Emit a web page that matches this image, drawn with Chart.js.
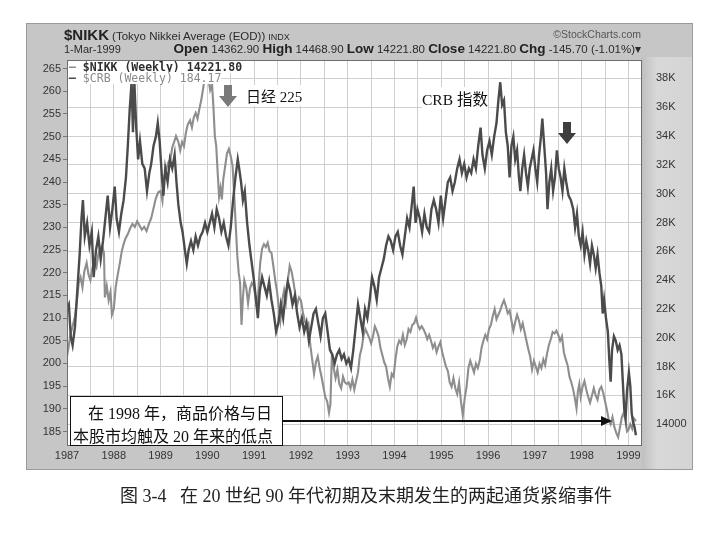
<!DOCTYPE html>
<html>
<head>
<meta charset="utf-8">
<script src="https://cdn.jsdelivr.net/npm/chart.js@4.4.1/dist/chart.umd.min.js"></script>
<style>
  html, body { margin: 0; padding: 0; background: #ffffff; }
  body { width: 725px; height: 537px; position: relative; overflow: hidden; font-family: "Liberation Sans", Arial, sans-serif; }
  #frame { position: absolute; left: 26px; top: 23px; width: 667px; height: 447px; background: #c6c6c6; border: 1px solid #9a9a9a; box-sizing: border-box; z-index: 0; }
  #frameRight { position: absolute; left: 642px; top: 57px; width: 50px; height: 412px; background: linear-gradient(to right, #c0c0c0, #d8d8d8 30%, #d4d4d4); z-index: 0; }
  #c { position: absolute; left: 0; top: 0; z-index: 1; }
  .ov { position: absolute; z-index: 2; white-space: nowrap; }
  .hdr { color: #2a2a2a; font-size: 11px; }
  .b { font-weight: bold; font-size: 13.5px; color: #222; }
  .serif { font-family: "Liberation Serif", "Noto Sans CJK SC", serif; color: #111; }
  .leg { font-family: "DejaVu Sans Mono", monospace; font-size: 11.5px; font-weight: bold; line-height: 12px; background: #fff; }
  .arrowDown { position: absolute; z-index: 2; width: 18px; height: 22px; }
  .arrowDown .shaft { position: absolute; left: 5px; top: 0; width: 8px; height: 11px; }
  .arrowDown .head { position: absolute; left: 0; top: 11px; width: 0; height: 0; border-left: 9px solid transparent; border-right: 9px solid transparent; }
</style>
</head>
<body>
<div id="frame"></div>
<div id="frameRight"></div>
<canvas id="c" width="725" height="537"></canvas>

<!-- header -->
<div class="ov hdr" style="left:64px; top:26px;"><span style="font-weight:bold; font-size:15px; color:#222;">$NIKK</span> <span style="font-size:11.5px;">(Tokyo Nikkei Average (EOD))</span> <span style="font-size:9px;">INDX</span></div>
<div class="ov hdr" style="left:64px; top:43px; font-size:11px;">1-Mar-1999</div>
<div class="ov hdr" style="right:84px; top:41px; font-size:11.5px;"><span class="b">Open</span> 14362.90 <span class="b">High</span> 14468.90 <span class="b">Low</span> 14221.80 <span class="b">Close</span> 14221.80 <span class="b">Chg</span> -145.70 (-1.01%)&#9662;</div>
<div class="ov hdr" style="right:84px; top:28px; font-size:10.5px; color:#555;">&copy;StockCharts.com</div>

<!-- legend -->
<div class="ov leg" style="left:69px; top:61px; color:#2e2e2e;"><span style="color:#8f8f8f;">&#8212;</span> $NIKK (Weekly) 14221.80</div>
<div class="ov leg" style="left:69px; top:72px; color:#8a8a8a; font-weight:normal;"><span style="color:#4a4a4a; font-weight:bold;">&#8212;</span> $CRB (Weekly) 184.17</div>

<!-- annotations -->
<div class="arrowDown" style="left:219px; top:85px;"><div class="shaft" style="background:#7a7a7a;"></div><div class="head" style="border-top:11px solid #7a7a7a;"></div></div>
<div class="ov serif" style="left:246px; top:85px; font-size:15px; background:#fff;">日经 225</div>
<div class="ov serif" style="left:422px; top:87px; font-size:15.5px; background:#fff;">CRB 指数</div>
<div class="arrowDown" style="left:558px; top:122px;"><div class="shaft" style="background:#3e3e3e;"></div><div class="head" style="border-top:11px solid #3e3e3e;"></div></div>

<div class="ov" style="left:70px; top:396px; width:213px; height:50px; background:#fff; border:1.5px solid #111; box-sizing:border-box;"></div>
<div class="ov serif" style="left:88px; top:400px; font-size:16px;">在 1998 年，商品价格与日</div>
<div class="ov serif" style="left:73px; top:423px; font-size:16px;">本股市均触及 20 年来的低点</div>
<div class="ov" style="left:283px; top:420px; width:320px; height:1.5px; background:#111;"></div>
<div class="ov" style="left:601px; top:416px; width:0; height:0; border-top:5px solid transparent; border-bottom:5px solid transparent; border-left:11px solid #111;"></div>

<!-- caption -->
<div class="ov serif" style="left:120px; top:481px; font-size:18px; color:#222;">图 3-4&nbsp;&nbsp;&nbsp;在 20 世纪 90 年代初期及末期发生的两起通货紧缩事件</div>

<script>
// ---------- data (decimal years) ----------
const crbDates = [1987.00,1987.04,1987.08,1987.12,1987.17,1987.22,1987.27,1987.31,1987.34,1987.38,1987.43,1987.48,1987.53,1987.57,1987.62,1987.67,1987.72,1987.77,1987.82,1987.87,1987.92,1987.97,1988.02,1988.06,1988.11,1988.16,1988.21,1988.26,1988.30,1988.34,1988.38,1988.41,1988.44,1988.48,1988.52,1988.56,1988.61,1988.66,1988.71,1988.76,1988.80,1988.85,1988.90,1988.94,1988.98,1989.03,1989.06,1989.10,1989.15,1989.20,1989.25,1989.30,1989.34,1989.38,1989.43,1989.47,1989.52,1989.56,1989.60,1989.65,1989.70,1989.75,1989.80,1989.85,1989.90,1989.95,1990.00,1990.05,1990.10,1990.15,1990.20,1990.25,1990.30,1990.35,1990.40,1990.45,1990.50,1990.55,1990.60,1990.65,1990.68,1990.72,1990.76,1990.80,1990.85,1990.90,1990.95,1991.00,1991.04,1991.08,1991.12,1991.17,1991.22,1991.27,1991.32,1991.37,1991.42,1991.47,1991.52,1991.57,1991.62,1991.67,1991.72,1991.77,1991.82,1991.87,1991.92,1991.97,1992.02,1992.07,1992.12,1992.17,1992.22,1992.27,1992.32,1992.37,1992.42,1992.47,1992.52,1992.57,1992.62,1992.67,1992.72,1992.77,1992.82,1992.87,1992.92,1992.97,1993.02,1993.07,1993.12,1993.17,1993.22,1993.27,1993.32,1993.37,1993.42,1993.47,1993.52,1993.57,1993.62,1993.67,1993.72,1993.77,1993.82,1993.87,1993.92,1993.97,1994.02,1994.07,1994.12,1994.17,1994.22,1994.27,1994.32,1994.37,1994.41,1994.45,1994.49,1994.54,1994.59,1994.64,1994.69,1994.74,1994.79,1994.84,1994.89,1994.94,1994.99,1995.04,1995.09,1995.14,1995.19,1995.24,1995.29,1995.34,1995.39,1995.44,1995.49,1995.54,1995.59,1995.64,1995.69,1995.74,1995.79,1995.84,1995.88,1995.93,1995.98,1996.03,1996.08,1996.13,1996.18,1996.22,1996.26,1996.30,1996.34,1996.38,1996.42,1996.46,1996.50,1996.54,1996.58,1996.62,1996.66,1996.69,1996.73,1996.77,1996.81,1996.85,1996.89,1996.93,1996.97,1997.01,1997.05,1997.09,1997.13,1997.16,1997.20,1997.24,1997.27,1997.31,1997.35,1997.39,1997.43,1997.47,1997.51,1997.55,1997.59,1997.63,1997.67,1997.72,1997.77,1997.82,1997.86,1997.90,1997.94,1997.98,1998.02,1998.06,1998.10,1998.14,1998.18,1998.22,1998.26,1998.30,1998.34,1998.38,1998.42,1998.45,1998.48,1998.52,1998.56,1998.59,1998.62,1998.65,1998.69,1998.73,1998.77,1998.81,1998.85,1998.88,1998.91,1998.94,1998.97,1999.01,1999.04,1999.07,1999.10,1999.13,1999.16];
const crbValues = [212,213,206,204,208,216,224,232,236,228,231,226,229,219,225,228,223,227,232,237,230,234,239,232,229,233,236,241,248,256,262,251,262,252,245,249,244,243,238,242,244,248,250,253,249,241,237,243,240,245,243,246,240,235,231,229,225,222,225,227,225,228,226,228,229,231,229,231,233,230,234,232,229,231,228,226,230,236,241,245,243,240,236,238,231,226,222,218,214,210,216,219,217,215,218,214,211,207,209,213,210,215,218,216,213,215,211,208,210,207,209,205,208,211,212,209,206,210,211,207,203,202,200,202,203,201,202,200,201,199,203,208,213,210,207,212,210,214,219,217,214,219,221,223,226,228,227,225,228,229,226,224,228,232,230,235,239,231,234,232,229,233,230,229,234,236,234,231,237,232,236,240,241,238,240,243,245,242,244,241,243,242,245,243,248,252,246,243,247,249,246,250,253,258,262,257,258,251,248,241,248,250,245,247,241,238,243,246,242,239,243,245,247,243,240,246,250,254,248,242,234,240,243,238,241,247,243,241,238,243,240,237,236,234,230,233,228,226,229,224,227,225,222,226,224,221,224,220,217,211,214,210,207,201,196,203,206,205,203,204,202,196,190,188,194,198,195,189,187,186,184.17];

const nikkDates = [1987.00,1987.04,1987.08,1987.12,1987.17,1987.21,1987.25,1987.29,1987.33,1987.37,1987.42,1987.46,1987.50,1987.54,1987.58,1987.63,1987.67,1987.71,1987.75,1987.79,1987.81,1987.85,1987.89,1987.93,1987.96,1988.00,1988.04,1988.08,1988.13,1988.17,1988.21,1988.25,1988.30,1988.35,1988.40,1988.45,1988.50,1988.55,1988.60,1988.65,1988.70,1988.75,1988.80,1988.85,1988.90,1988.95,1989.00,1989.04,1989.08,1989.13,1989.17,1989.21,1989.25,1989.29,1989.33,1989.38,1989.42,1989.46,1989.50,1989.54,1989.58,1989.63,1989.67,1989.71,1989.75,1989.79,1989.83,1989.87,1989.91,1989.95,1989.99,1990.03,1990.06,1990.10,1990.13,1990.16,1990.19,1990.22,1990.25,1990.28,1990.31,1990.34,1990.38,1990.42,1990.46,1990.50,1990.54,1990.58,1990.61,1990.64,1990.67,1990.70,1990.73,1990.76,1990.79,1990.83,1990.87,1990.91,1990.95,1990.99,1991.03,1991.07,1991.10,1991.13,1991.17,1991.21,1991.25,1991.29,1991.33,1991.37,1991.41,1991.45,1991.49,1991.53,1991.56,1991.60,1991.64,1991.68,1991.72,1991.76,1991.80,1991.84,1991.88,1991.92,1991.96,1992.00,1992.04,1992.08,1992.12,1992.16,1992.20,1992.24,1992.28,1992.32,1992.36,1992.40,1992.44,1992.48,1992.52,1992.56,1992.60,1992.63,1992.66,1992.70,1992.74,1992.78,1992.82,1992.86,1992.90,1992.94,1992.98,1993.02,1993.06,1993.10,1993.14,1993.18,1993.22,1993.26,1993.30,1993.34,1993.38,1993.42,1993.46,1993.50,1993.54,1993.58,1993.62,1993.66,1993.70,1993.74,1993.78,1993.82,1993.86,1993.90,1993.94,1993.98,1994.02,1994.06,1994.10,1994.14,1994.18,1994.22,1994.26,1994.30,1994.34,1994.38,1994.42,1994.46,1994.50,1994.54,1994.58,1994.62,1994.66,1994.70,1994.74,1994.78,1994.82,1994.86,1994.90,1994.94,1994.98,1995.02,1995.06,1995.10,1995.14,1995.18,1995.22,1995.26,1995.30,1995.34,1995.38,1995.42,1995.46,1995.50,1995.54,1995.58,1995.62,1995.66,1995.70,1995.74,1995.78,1995.82,1995.86,1995.90,1995.94,1995.98,1996.02,1996.06,1996.10,1996.14,1996.18,1996.22,1996.26,1996.30,1996.34,1996.38,1996.42,1996.46,1996.50,1996.54,1996.58,1996.62,1996.66,1996.70,1996.74,1996.78,1996.82,1996.86,1996.90,1996.94,1996.98,1997.02,1997.06,1997.10,1997.14,1997.18,1997.22,1997.26,1997.30,1997.34,1997.38,1997.42,1997.46,1997.50,1997.54,1997.58,1997.62,1997.66,1997.70,1997.74,1997.78,1997.82,1997.86,1997.89,1997.92,1997.95,1997.98,1998.02,1998.06,1998.10,1998.14,1998.18,1998.22,1998.26,1998.30,1998.34,1998.38,1998.42,1998.46,1998.50,1998.54,1998.58,1998.62,1998.66,1998.70,1998.74,1998.78,1998.82,1998.86,1998.90,1998.94,1998.97,1999.00,1999.04,1999.08,1999.12,1999.16];
const nikkValues = [18700,19500,20300,20800,21500,22500,23800,24200,23500,24600,25200,24400,24000,24800,25300,24900,25800,26200,26400,25900,22800,23600,22600,23200,21600,22000,23500,24300,25200,26000,26500,26900,27200,27600,27900,27700,28100,27800,27500,27700,27400,27900,28300,29000,29700,30100,30200,29500,31200,31800,32200,32400,33200,33600,34000,33600,33000,33600,33300,34200,34800,35100,34600,35300,35600,35200,35900,36500,37300,38200,38900,37800,37200,37600,36000,34000,33300,31500,29800,30400,29600,31000,31900,32800,33100,32600,31900,29500,27600,25700,24500,23800,20900,22800,24000,23500,22400,23400,23800,23600,22800,21900,23800,25200,26200,26500,26300,26600,26000,25900,25000,24000,23200,22000,21200,22600,23300,22500,24000,25000,24600,23900,23000,22300,22800,22600,21800,21200,20800,21000,19500,18500,17500,18300,18700,17900,17300,16600,15900,15600,14800,15400,18600,17900,17200,17800,16800,16500,17300,16900,16800,16900,16500,17100,16400,17000,17600,18800,19300,20200,20600,20300,20000,19600,20100,20800,20500,20100,19300,18800,18300,18000,17200,16600,17500,17300,18500,19400,19800,19600,20200,19500,19900,20600,20400,20900,21000,21400,20900,20600,20800,20600,20300,19900,20200,19800,19300,19600,19000,19400,19700,19000,18500,18000,17700,16900,16600,17200,16500,16100,16900,15600,14600,15800,16600,17900,18400,18000,17600,18200,17900,18400,19300,19800,20200,19900,20600,20900,21500,22000,21300,21600,21900,22300,22600,22200,21700,21900,21200,20500,21100,21600,21200,20600,21000,20400,19800,19200,18700,17800,18400,18000,17600,18200,17900,18500,18100,18900,19500,19900,20400,20300,20500,20200,19800,20100,19000,18500,18100,17300,16900,16400,15700,15100,16300,16800,15900,16600,17000,16400,15900,15500,16000,16500,16000,15700,16400,16600,16200,15600,15000,14300,14000,14500,13800,13400,13100,13800,14500,14800,14200,13500,13600,14000,13700,14400,14221.8];

// tick label lists
const yearLabels = [1987,1988,1989,1990,1991,1992,1993,1994,1995,1996,1997,1998,1999];
const crbTicks = [185,190,195,200,205,210,215,220,225,230,235,240,245,250,255,260,265];
const nikkTickLabels = {14000:'14000',16000:'16K',18000:'18K',20000:'20K',22000:'22K',24000:'24K',26000:'26K',28000:'28K',30000:'30K',32000:'32K',34000:'34K',36000:'36K',38000:'38K'};

const crbPts = crbDates.map((d,i)=>({x:d, y:crbValues[i]}));
const nikkPts = nikkDates.map((d,i)=>({x:d, y:nikkValues[i]}));

const plotBg = {
  id: 'plotBg',
  beforeDraw(chart) {
    const {ctx, chartArea:a} = chart;
    ctx.save();
    ctx.fillStyle = '#ffffff';
    ctx.fillRect(a.left, a.top, a.right-a.left, a.bottom-a.top);
    ctx.restore();
  },
  afterDraw(chart) {
    const {ctx, chartArea:a} = chart;
    ctx.save();
    ctx.strokeStyle = '#6e6e6e';
    ctx.lineWidth = 1;
    ctx.strokeRect(a.left+0.5, a.top+0.5, a.right-a.left-1, a.bottom-a.top-1);
    ctx.restore();
  }
};

const tickFont = {family: '"Liberation Sans", Arial, sans-serif', size: 11};

new Chart(document.getElementById('c'), {
  type: 'line',
  data: {
    datasets: [
      {label: '$CRB (Weekly)', data: crbPts, yAxisID: 'yL', borderColor: '#4b4b4b', borderWidth: 2.4, pointRadius: 0, tension: 0, fill: false},
      {label: '$NIKK (Weekly)', data: nikkPts, yAxisID: 'yR', borderColor: '#8e8e8e', borderWidth: 2.1, pointRadius: 0, tension: 0, fill: false}
    ]
  },
  options: {
    responsive: false,
    animation: false,
    events: [],
    layout: {padding: {left: 26, top: 60, right: 32, bottom: 67}},
    plugins: {legend: {display: false}, tooltip: {enabled: false}, title: {display: false}},
    scales: {
      x: {
        type: 'linear', min: 1987, max: 1999.29,
        afterFit(s) { s.height = 24; },
        ticks: {
          stepSize: 0.5, includeBounds: false, autoSkip: false, maxRotation: 0, padding: 3,
          color: '#333', font: tickFont,
          callback: v => yearLabels.includes(v) ? String(v) : ''
        },
        grid: {color: '#cfcfcf', lineWidth: 1, drawTicks: false},
        border: {display: false}
      },
      yL: {
        type: 'linear', position: 'left', min: 181.8, max: 266.9,
        afterFit(s) { s.width = 41; },
        afterBuildTicks(s) { s.ticks = crbTicks.map(v => ({value: v})); },
        ticks: {color: '#333', font: tickFont, padding: 2, callback: v => String(v)},
        grid: {drawOnChartArea: false, drawTicks: true, tickLength: 4, color: '#777'},
        border: {display: false}
      },
      yR: {
        type: 'linear', position: 'right', min: 12490, max: 39280,
        afterFit(s) { s.width = 51; },
        afterBuildTicks(s) { s.ticks = Object.keys(nikkTickLabels).map(k => ({value: Number(k)})); },
        ticks: {color: '#333', font: tickFont, padding: 14, callback: v => nikkTickLabels[v] || ''},
        grid: {drawOnChartArea: true, drawTicks: false, color: '#cfcfcf'},
        border: {display: false}
      }
    }
  },
  plugins: [plotBg]
});
</script>
</body>
</html>
